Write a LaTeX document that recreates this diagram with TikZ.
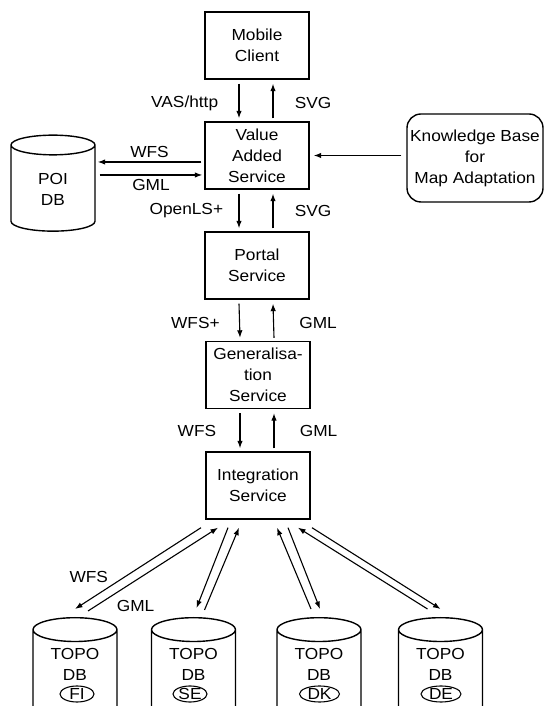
\documentclass[tikz,border=0pt]{standalone}
\usepackage{fontspec}
\setmainfont{Liberation Sans}[FakeStretch=1.08]
\usepackage{tikz}
\usetikzlibrary{shapes.geometric}
\usetikzlibrary{positioning}
\usetikzlibrary{arrows.meta}
\tikzset{my_diagram/.style={x=1pt,y=1pt,>={Latex[length=7.5pt,width=5.5pt]},line width=1.1pt,font=\fontsize{16pt}{21pt}\selectfont}}
\tikzset{my_service/.style={rectangle, draw, line width=1.4pt, minimum width=104pt, minimum height=67pt, align=center, inner sep=1pt}}
\tikzset{my_knowledge/.style={rectangle, draw, rounded corners=14pt, line width=1.4pt, minimum width=136pt, minimum height=88pt, align=center, inner sep=1pt}}
\tikzset{my_db/.style={cylinder, shape border rotate=90, draw, line width=1.4pt, aspect=0.62, minimum width=84pt, align=center, inner sep=1pt}}
\tikzset{my_topo/.style={my_db, aspect=0.47, minimum height=130pt, anchor=north}}
\tikzset{my_db_text/.style={align=center, inner sep=0pt}}
\tikzset{my_country/.style={ellipse, draw, line width=1.1pt, minimum width=34pt, minimum height=16pt, inner sep=0pt}}
\newcommand{\topobox}{\phantom{TOPO}\\\phantom{DB}\\\strut}

\begin{document}
\begin{tikzpicture}[my_diagram]
    \useasboundingbox (0,0) rectangle (545,706);
    \clip (0,0) rectangle (545,706);
    %\draw[help lines, step=50] (0,0) grid (545,706);
    \node[my_service] (mobile) at (257,660.5) {Mobile\\Client};
    \node[my_service] (vas) at (257,550.5) {Value\\Added\\Service};
    \node[my_service] (portal) at (257,440.5) {Portal\\Service};
    \node[my_service] (gen) at (258,331) {Generalisa-\\tion\\Service};
    \node[my_service] (integ) at (258,220.5) {Integration\\Service};
    \node[my_db, minimum height=96pt] (poi) at (53,516.5) {POI\\DB};
    \node[my_knowledge] (kb) at (475,548) {Knowledge Base\\for\\Map Adaptation};

    % bottom of the TOPO databases is cut off by the page
    \node[my_topo] (fi) at (75,89) {\topobox};
    \node[my_topo] (se) at (193.5,89) {\topobox};
    \node[my_topo] (dk) at (319,89) {\topobox};
    \node[my_topo] (de) at (440.5,89) {\topobox};
    \node[my_db_text] (fi_text) at (75,41.5) {TOPO\\DB};
    \node[my_db_text] (se_text) at (193.5,41.5) {TOPO\\DB};
    \node[my_db_text] (dk_text) at (319,41.5) {TOPO\\DB};
    \node[my_db_text] (de_text) at (440.5,41.5) {TOPO\\DB};
    \node[my_country] (fi_tag) at (77,12) {FI};
    \node[my_country] (se_tag) at (190,12) {SE};
    \node[my_country, minimum width=40pt] (dk_tag) at (319.5,12) {DK};
    \node[my_country, minimum width=40pt] (de_tag) at (441,12) {DE};

    \path[->]
        ([xshift=-18,yshift=-4]mobile.south) edge node[left=17pt, yshift=-2pt] {VAS/http} ([xshift=-18,yshift=3]vas.north)
        ([xshift=16,yshift=3]vas.north) edge node[right=18pt, yshift=-2pt] {SVG} ([xshift=16,yshift=-4]mobile.south)
        ([xshift=-3]vas.west |- 0,544) edge node[above] {WFS} ([xshift=2]poi.east |- 0,544)
        ([xshift=4]poi.east |- 0,531) edge node[below] {GML} ([xshift=-2]vas.west |- 0,531)
        ([xshift=-5]kb.west |- vas.east) edge ([xshift=4]vas.east)
        ([xshift=-18,yshift=-4]vas.south) edge node[left=12pt] {OpenLS+} ([xshift=-18,yshift=3]portal.north)
        ([xshift=16,yshift=3]portal.north) edge node[right=18pt] {SVG} ([xshift=16,yshift=-4]vas.south)
        ([xshift=-18,yshift=-4]portal.south) edge node[left=16pt, yshift=-2pt] {WFS+} ([xshift=-18,yshift=3]gen.north)
        ([xshift=16,yshift=3]gen.north) edge node[right=22pt, yshift=-2pt] {GML} ([xshift=16,yshift=-4]portal.south)
        ([xshift=-18,yshift=-4]gen.south) edge node[left=20pt] {WFS} ([xshift=-18,yshift=3]integ.north)
        ([xshift=16,yshift=3]integ.north) edge node[right=22pt] {GML} ([xshift=16,yshift=-4]gen.south)
    ;
    \path[->]
        ([xshift=-57,yshift=-8]integ.south) edge node[pos=0.7, left=1pt, yshift=8pt] {WFS} ([yshift=8]fi.north)
        ([xshift=13,yshift=6]fi.north) edge node[pos=0.1, right=12pt, yshift=-3pt] {GML} ([xshift=-40,yshift=-8]integ.south)
        ([xshift=-30,yshift=-8]integ.south) edge ([xshift=3,yshift=9]se.north)
        ([xshift=11,yshift=7]se.north) edge ([xshift=-19,yshift=-8]integ.south)
        ([xshift=-8,yshift=8]dk.north) edge ([xshift=19,yshift=-8]integ.south)
        ([xshift=30,yshift=-8]integ.south) edge ([xshift=1,yshift=8]dk.north)
        ([xshift=-13,yshift=8]de.north) edge ([xshift=40,yshift=-8]integ.south)
        ([xshift=54,yshift=-8]integ.south) edge ([yshift=8]de.north)
    ;
\end{tikzpicture}
\end{document}
